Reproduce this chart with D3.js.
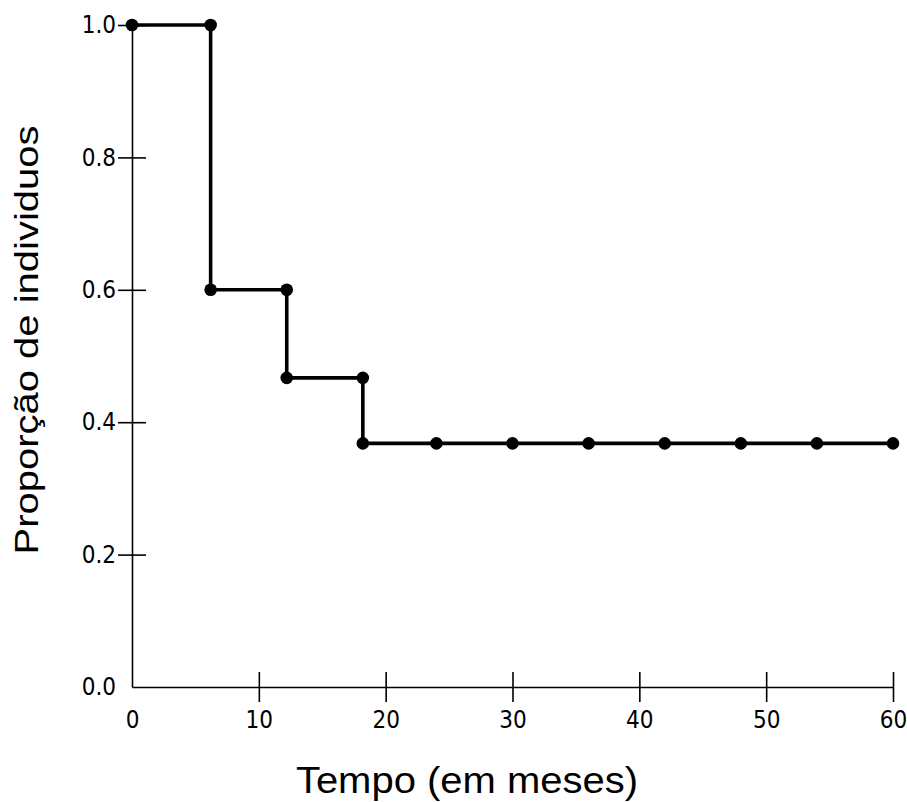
<!DOCTYPE html>
<html>
<head>
<meta charset="utf-8">
<script src="https://cdn.jsdelivr.net/npm/d3@7"></script>
<style>
  body { margin: 0; background: #fff; }
  .tick text { font-family: "Liberation Sans Narrow", "DejaVu Sans Condensed", "Liberation Sans", sans-serif; font-stretch: condensed; }
</style>
</head>
<body>
<svg id="chart" width="907" height="802"></svg>
<script>
// Kaplan-Meier style curve
const times = [0, 6.2, 6.2, 12.2, 12.2, 18.2, 18.2, 24, 30, 36, 42, 48, 54, 60]
const props = [1.0, 1.0, 0.6, 0.6, 0.467, 0.467, 0.368, 0.368, 0.368, 0.368, 0.368, 0.368, 0.368, 0.368]

const xTicks = [0, 10, 20, 30, 40, 50, 60]
const yTicks = [0.0, 0.2, 0.4, 0.6, 0.8, 1.0]

const xLabel = 'Tempo (em meses)'
const yLabel = 'Proporção de individuos'

const svg = d3.select('#chart')

const x = d3.scaleLinear().domain([0, 60]).range([132, 893])
const y = d3.scaleLinear().domain([0, 1]).range([687, 25])

// x axis
const gx = svg.append('g')
  .attr('transform', `translate(0,${y(0)})`)
  .call(d3.axisBottom(x).tickValues(xTicks).tickSize(15).tickPadding(11).tickSizeOuter(0))
gx.select('.domain').attr('stroke', '#000').attr('stroke-width', 1.6)
gx.selectAll('.tick line')
  .attr('y1', -15).attr('y2', 15).attr('stroke-width', 1.6)
  .filter(d => d === 0).remove()
gx.selectAll('.tick text').attr('font-size', 24).attr('fill', '#000').attr('dy', '0.62em')

// y axis
const gy = svg.append('g')
  .attr('transform', `translate(${x(0)},0)`)
  .call(d3.axisLeft(y).tickValues(yTicks).tickFormat(d3.format('.1f')).tickSize(14).tickPadding(2).tickSizeOuter(0))
gy.select('.domain').attr('stroke', '#000').attr('stroke-width', 1.6)
gy.selectAll('.tick line')
  .attr('x1', -14).attr('x2', 14).attr('stroke-width', 1.6)
  .filter(d => d === 0).remove()
gy.selectAll('.tick text').attr('font-size', 24).attr('fill', '#000')

// step curve
const pts = times.map((t, i) => [t, props[i]])
svg.append('path')
  .datum(pts)
  .attr('fill', 'none')
  .attr('stroke', '#000')
  .attr('stroke-width', 3.6)
  .attr('d', d3.line().x(d => x(d[0])).y(d => y(d[1])))

svg.append('g').selectAll('circle')
  .data(pts)
  .join('circle')
  .attr('cx', d => x(d[0]))
  .attr('cy', d => y(d[1]))
  .attr('r', 6.3)
  .attr('fill', '#000')

// axis titles
svg.append('text')
  .attr('transform', 'translate(467,793) scale(1,0.92)')
  .attr('text-anchor', 'middle')
  .attr('font-family', 'Liberation Sans, Arial, sans-serif')
  .attr('font-size', 40)
  .text(xLabel)

svg.append('text')
  .attr('transform', 'translate(38,340) rotate(-90) scale(1,0.85)')
  .attr('text-anchor', 'middle')
  .attr('font-family', 'Liberation Sans, Arial, sans-serif')
  .attr('font-size', 40)
  .text(yLabel)
</script>
</body>
</html>
